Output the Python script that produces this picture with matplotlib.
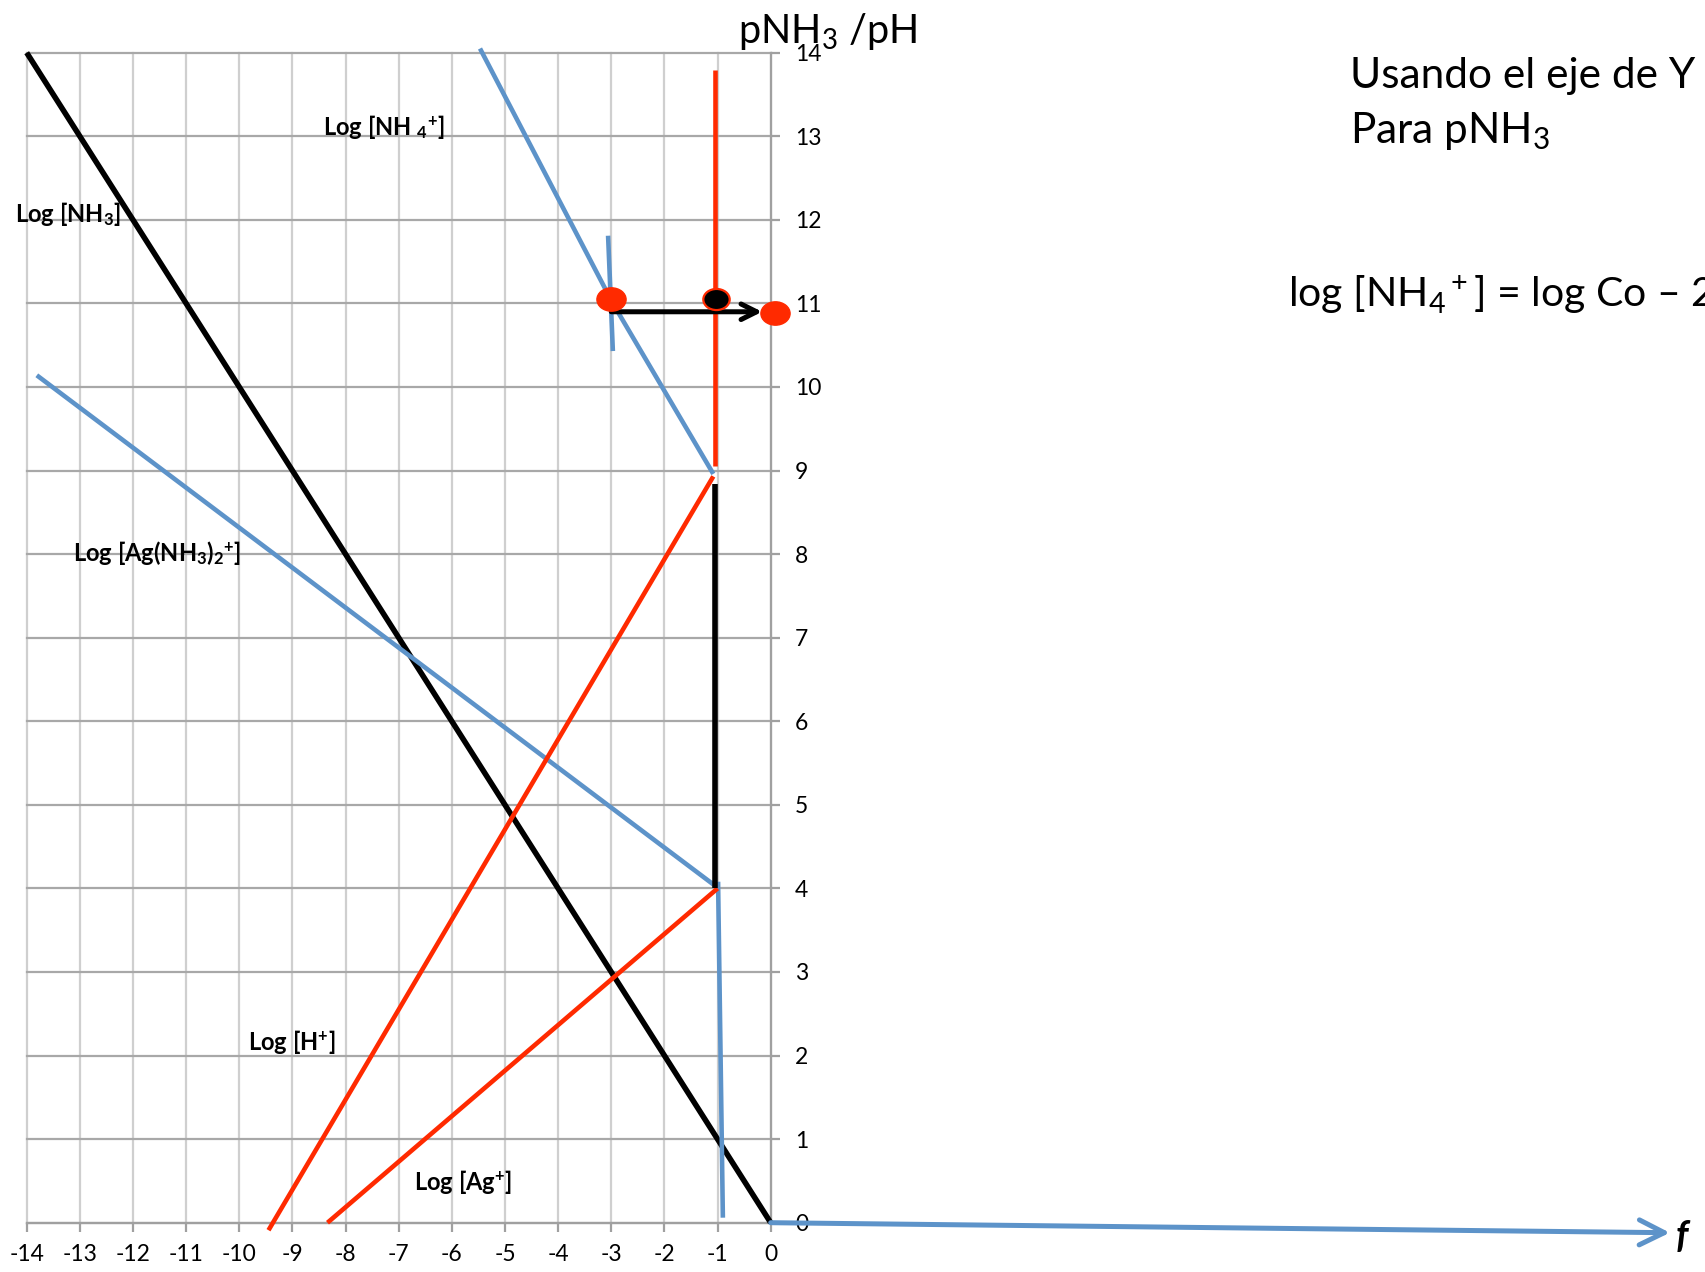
import matplotlib
matplotlib.use("Agg")
import matplotlib.pyplot as plt
from matplotlib.path import Path
from matplotlib.transforms import Affine2D

plt.rcParams['font.family'] = ['Lato', 'DejaVu Sans']
plt.rcParams['mathtext.fontset'] = 'custom'
plt.rcParams['mathtext.rm'] = 'Lato'
plt.rcParams['mathtext.it'] = 'Lato:italic'
plt.rcParams['mathtext.bf'] = 'Lato:bold'
plt.rcParams['mathtext.sf'] = 'Lato'

# ---- diagram data (log concentration vs pNH3 / pH) ----
x_ticks = list(range(-14, 1))
y_ticks = list(range(0, 15))

nh3_x = [-14.0, 0.0]
nh3_y = [14.0, 0.0]

nh4_x = [-5.47, -2.97, -1.08]
nh4_y = [14.05, 11.0, 8.96]

agnh3_x = [-13.81, -0.98]
agnh3_y = [10.14, 4.0]

ag_vert_x = [-0.99, -0.90]
ag_vert_y = [4.08, 0.06]

h_x = [-9.45, -1.08]
h_y = [-0.09, 8.93]

ag_x = [-8.34, -1.0]
ag_y = [0.0, 4.0]

co_red_x = [-1.05, -1.05]
co_red_y = [13.79, 9.05]

co_black_x = [-1.05, -1.05]
co_black_y = [8.84, 4.0]

mark_x = [-3.06, -2.97]
mark_y = [11.81, 10.43]

red_dots_x = [-3.0, 0.08]
red_dots_y = [11.05, 10.89]
black_dot_x = [-1.03]
black_dot_y = [11.05]

arrow_start = (-3.0, 10.9)
arrow_end = (-0.16, 10.9)
f_arrow_start = (0.0, 0.0)
f_arrow_end = (16.92, -0.12)

BLUE = '#5d93c9'
RED = '#ff2a00'
GRID_V = '#cfcfcf'
GRID_H = '#a8a8a8'
AXIS = '#a0a0a0'

W, H = 1706, 1272
fig = plt.figure(figsize=(W / 100, H / 100), dpi=100)
fig.patch.set_facecolor('white')

ax = fig.add_axes([26.7 / W, (H - 1222.7) / H, 744 / W, 1170 / H])
ax.set_xlim(-14, 0)
ax.set_ylim(0, 14)
ax.set_xticks(x_ticks)
ax.set_yticks(y_ticks)
ax.set_xticklabels([str(v) for v in x_ticks])
ax.set_yticklabels([str(v) for v in y_ticks])
ax.yaxis.tick_right()

ax.grid(axis='x', color=GRID_V, lw=1.6, zorder=0)
ax.grid(axis='y', color=GRID_H, lw=1.6, zorder=0)
ax.set_axisbelow(True)
for gl in ax.get_xgridlines() + ax.get_ygridlines():
    gl.set_clip_on(False)

for side in ('top', 'left'):
    ax.spines[side].set_visible(False)
for side in ('right', 'bottom'):
    ax.spines[side].set_color(AXIS)
    ax.spines[side].set_linewidth(1.6)

ax.tick_params(axis='both', direction='out', length=6.5, width=1.6, color=AXIS,
               labelsize=16.5, labelcolor='black')
ax.tick_params(axis='x', pad=9)
ax.tick_params(axis='y', pad=11)

lw_line = 3.3
ax.plot(nh3_x, nh3_y, color='black', lw=4.0, solid_capstyle='butt', clip_on=False, zorder=3)
ax.plot(nh4_x, nh4_y, color=BLUE, lw=lw_line, solid_capstyle='butt', clip_on=False, zorder=3)
ax.plot(agnh3_x, agnh3_y, color=BLUE, lw=lw_line, solid_capstyle='butt', clip_on=False, zorder=3)
ax.plot(ag_vert_x, ag_vert_y, color=BLUE, lw=lw_line, solid_capstyle='butt', clip_on=False, zorder=3)
ax.plot(h_x, h_y, color=RED, lw=lw_line, solid_capstyle='butt', clip_on=False, zorder=4)
ax.plot(ag_x, ag_y, color=RED, lw=lw_line, solid_capstyle='butt', clip_on=False, zorder=4)
ax.plot(co_red_x, co_red_y, color=RED, lw=lw_line, solid_capstyle='butt', clip_on=False, zorder=4)
ax.plot(co_black_x, co_black_y, color='black', lw=4.0, solid_capstyle='butt', clip_on=False, zorder=4)
ax.plot(mark_x, mark_y, color=BLUE, lw=lw_line, solid_capstyle='butt', clip_on=False, zorder=3)

# horizontal arrow at pNH3 = 11
ax.annotate('', xy=arrow_end, xytext=arrow_start,
            arrowprops=dict(arrowstyle='->', color='black', lw=3.6, mutation_scale=28,
                            shrinkA=0, shrinkB=0),
            annotation_clip=False, zorder=5)

ellipse = Path.unit_circle().transformed(Affine2D().scale(1.0, 0.8))
ax.plot(red_dots_x, red_dots_y, linestyle='none', marker=ellipse, markersize=21,
        markerfacecolor=RED, markeredgecolor=RED, clip_on=False, zorder=6)
ax.plot(black_dot_x, black_dot_y, linestyle='none', marker=ellipse, markersize=19,
        markerfacecolor='black', markeredgecolor=RED, markeredgewidth=1.6,
        clip_on=False, zorder=6)

# fraction axis
ax.annotate('', xy=f_arrow_end, xytext=f_arrow_start,
            arrowprops=dict(arrowstyle='->', color=BLUE, lw=3.6, mutation_scale=45,
                            shrinkA=0, shrinkB=0),
            annotation_clip=False, zorder=7)

# species labels
lab = dict(fontsize=17, fontweight='bold', ha='left', va='baseline', clip_on=False, zorder=8)
ax.text(-14.22, 11.97, r'Log [NH$_\mathbf{3}$]', **lab)
ax.text(-8.42, 13.02, r'Log [NH $_\mathbf{4}{}^\mathbf{+}$]', **lab)
ax.text(-13.13, 7.92, r'Log [Ag(NH$_\mathbf{3}$)$_\mathbf{2}{}^\mathbf{+}$]', **lab)
ax.text(-9.83, 2.07, r'Log [H$^\mathbf{+}$]', **lab)
ax.text(-6.72, 0.39, r'Log [Ag$^\mathbf{+}$]', **lab)

# figure texts
fig.text(738 / W, 1 - 43.3 / H, r'pNH$_3$ /pH', fontsize=28.5, ha='left', va='baseline')
fig.text(1350 / W, 1 - 88 / H, 'Usando el eje de Y', fontsize=30.5, ha='left', va='baseline')
fig.text(1350 / W, 1 - 143.3 / H, r'Para pNH$_3$', fontsize=30.5, ha='left', va='baseline')
fig.text(1288 / W, 1 - 306.7 / H, r'log [NH$_4$$^+$] = log Co – 2', fontsize=29.5,
         ha='left', va='baseline')
fig.text(1682 / W, 1 - 1237 / H, 'f', fontsize=27, fontweight='bold', fontstyle='italic',
         ha='center', va='center')

fig.savefig('out.png', dpi=100, facecolor='white')
